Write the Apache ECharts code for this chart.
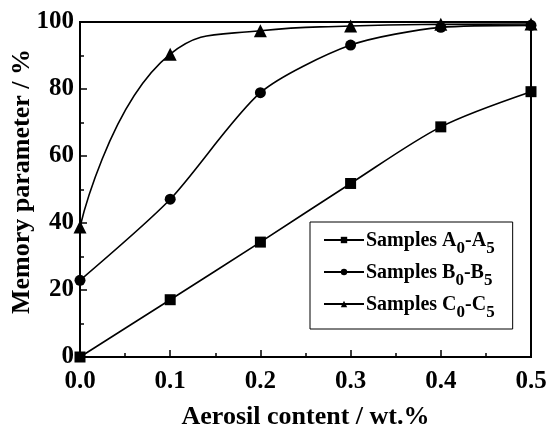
<!DOCTYPE html>
<html><head><meta charset="utf-8">
<script src="https://cdn.jsdelivr.net/npm/echarts@6/dist/echarts.min.js"></script>
<style>html,body{margin:0;padding:0;background:#fff}#c{width:547px;height:424px}</style>
</head><body><div id="c"></div>
<script>
const xValues = [0.0, 0.1, 0.2, 0.3, 0.4, 0.5];
const seriesA = [0.0, 17.1, 34.3, 51.8, 68.7, 79.2];
const seriesB = [22.9, 47.1, 78.9, 93.1, 98.4, 99.0];
const seriesC = [38.8, 90.4, 97.4, 98.8, 99.3, 99.4];
const seriesNames = ['Samples A0-A5', 'Samples B0-B5', 'Samples C0-C5'];
const legendParts = {
  'Samples A0-A5': ['A', 'A'],
  'Samples B0-B5': ['B', 'B'],
  'Samples C0-C5': ['C', 'C']
};
const FONT = '"Liberation Serif", "Times New Roman", serif';
const chart = echarts.init(document.getElementById('c'), null, {renderer: 'canvas'});
function mk(name, vals, symbol, size, smooth) {
  return {
    name: name, type: 'line', smooth: smooth,
    data: xValues.map((x, i) => [x, vals[i]]),
    symbol: symbol, symbolSize: size,
    itemStyle: {color: '#000'},
    lineStyle: {color: '#000', width: 1.6}
  };
}
chart.setOption({
  animation: false,
  grid: {left: 80, right: 16, top: 22, bottom: 67, outerBoundsMode: 'none', containLabel: false, show: true, borderColor: '#000', borderWidth: 2, backgroundColor: 'transparent'},
  xAxis: {
    type: 'value', min: 0, max: 0.5, interval: 0.1,
    name: 'Aerosil content / wt.%', nameLocation: 'middle', nameGap: 47,
    nameTextStyle: {fontFamily: FONT, fontWeight: 'bold', fontSize: 26, color: '#000'},
    axisLine: {lineStyle: {color: '#000', width: 2}},
    axisTick: {inside: true, length: 7, lineStyle: {color: '#000', width: 1.5}},
    minorTick: {show: true, splitNumber: 2, length: 4, lineStyle: {color: '#000', width: 1.5}},
    axisLabel: {fontFamily: FONT, fontWeight: 'bold', fontSize: 25, color: '#000', margin: 12, formatter: v => v.toFixed(1)},
    splitLine: {show: false}
  },
  yAxis: {
    type: 'value', min: 0, max: 100, interval: 20,
    name: 'Memory parameter / %', nameLocation: 'middle', nameGap: 45, nameMoveOverlap: false,
    nameTextStyle: {fontFamily: FONT, fontWeight: 'bold', fontSize: 26, color: '#000', padding: [0, 0, 0, 16]},
    axisLine: {lineStyle: {color: '#000', width: 2}},
    axisTick: {inside: true, length: 7, lineStyle: {color: '#000', width: 1.5}},
    minorTick: {show: true, splitNumber: 2, length: 4, lineStyle: {color: '#000', width: 1.5}},
    axisLabel: {fontFamily: FONT, fontWeight: 'bold', fontSize: 25, color: '#000', margin: 6},
    splitLine: {show: false}
  },
  legend: {
    orient: 'vertical', left: 310, top: 222,
    borderColor: '#000', borderWidth: 1, padding: [9, 18, 8, 13], itemGap: 6,
    itemWidth: 40, itemHeight: 8,
    data: seriesNames,
    formatter: function (name) {
      const p = legendParts[name];
      return '{n|Samples ' + p[0] + '}{s|0}{n|-' + p[1] + '}{s|5}';
    },
    textStyle: {
      fontFamily: FONT, fontWeight: 'bold', fontSize: 20, color: '#000', padding: [0, 0, 0, -3],
      rich: {
        n: {fontFamily: FONT, fontWeight: 'bold', fontSize: 20, color: '#000', verticalAlign: 'bottom', lineHeight: 22},
        s: {fontFamily: FONT, fontWeight: 'bold', fontSize: 17, color: '#000', verticalAlign: 'bottom', lineHeight: 16, padding: [0, 0, -6, 0]}
      }
    }
  },
  series: [
    mk(seriesNames[0], seriesA, 'rect', 11, 0.3),
    mk(seriesNames[1], seriesB, 'circle', 11, 0.25),
    mk(seriesNames[2], seriesC, 'triangle', 13, 0.5)
  ]
});
</script></body></html>
